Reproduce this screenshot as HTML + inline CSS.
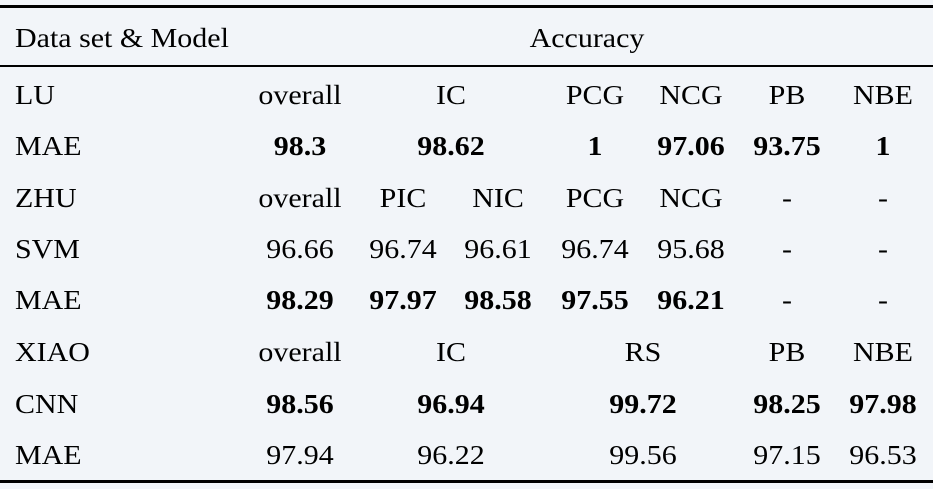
<!DOCTYPE html>
<html><head><meta charset="utf-8"><style>
body{margin:0;width:933px;height:489px;background:#f2f5f9;position:relative;overflow:hidden;font-family:"Liberation Serif",serif;font-size:27px;color:#000}
.l{position:absolute;left:0;width:933px;background:#000}
.t{position:absolute;white-space:nowrap;line-height:30px;transform:translate(-50%,-50%) scaleX(1.11)}
.lt{position:absolute;white-space:nowrap;line-height:30px;transform-origin:0 50%;transform:translateY(-50%) scaleX(1.11);left:15px}
b{font-weight:bold}
</style></head><body>
<div class="l" style="top:5px;height:3px"></div>
<div class="l" style="top:65px;height:2px"></div>
<div class="l" style="top:480px;height:3px"></div>

<div class="lt" style="top:38px">Data set &amp; Model</div>
<div class="t" style="left:587px;top:38px">Accuracy</div>

<div class="lt" style="top:95px">LU</div>
<div class="t" style="left:300px;top:95px">overall</div>
<div class="t" style="left:451px;top:95px">IC</div>
<div class="t" style="left:595px;top:95px">PCG</div>
<div class="t" style="left:691px;top:95px">NCG</div>
<div class="t" style="left:787px;top:95px">PB</div>
<div class="t" style="left:883px;top:95px">NBE</div>

<div class="lt" style="top:146px">MAE</div>
<div class="t" style="left:300px;top:146px"><b>98.3</b></div>
<div class="t" style="left:451px;top:146px"><b>98.62</b></div>
<div class="t" style="left:595px;top:146px"><b>1</b></div>
<div class="t" style="left:691px;top:146px"><b>97.06</b></div>
<div class="t" style="left:787px;top:146px"><b>93.75</b></div>
<div class="t" style="left:883px;top:146px"><b>1</b></div>

<div class="lt" style="top:198px">ZHU</div>
<div class="t" style="left:300px;top:198px">overall</div>
<div class="t" style="left:403px;top:198px">PIC</div>
<div class="t" style="left:498px;top:198px">NIC</div>
<div class="t" style="left:595px;top:198px">PCG</div>
<div class="t" style="left:691px;top:198px">NCG</div>
<div class="t" style="left:787px;top:198px">-</div>
<div class="t" style="left:883px;top:198px">-</div>

<div class="lt" style="top:249px">SVM</div>
<div class="t" style="left:300px;top:249px">96.66</div>
<div class="t" style="left:403px;top:249px">96.74</div>
<div class="t" style="left:498px;top:249px">96.61</div>
<div class="t" style="left:595px;top:249px">96.74</div>
<div class="t" style="left:691px;top:249px">95.68</div>
<div class="t" style="left:787px;top:249px">-</div>
<div class="t" style="left:883px;top:249px">-</div>

<div class="lt" style="top:300px">MAE</div>
<div class="t" style="left:300px;top:300px"><b>98.29</b></div>
<div class="t" style="left:403px;top:300px"><b>97.97</b></div>
<div class="t" style="left:498px;top:300px"><b>98.58</b></div>
<div class="t" style="left:595px;top:300px"><b>97.55</b></div>
<div class="t" style="left:691px;top:300px"><b>96.21</b></div>
<div class="t" style="left:787px;top:300px">-</div>
<div class="t" style="left:883px;top:300px">-</div>

<div class="lt" style="top:352px">XIAO</div>
<div class="t" style="left:300px;top:352px">overall</div>
<div class="t" style="left:451px;top:352px">IC</div>
<div class="t" style="left:643px;top:352px">RS</div>
<div class="t" style="left:787px;top:352px">PB</div>
<div class="t" style="left:883px;top:352px">NBE</div>

<div class="lt" style="top:404px">CNN</div>
<div class="t" style="left:300px;top:404px"><b>98.56</b></div>
<div class="t" style="left:451px;top:404px"><b>96.94</b></div>
<div class="t" style="left:643px;top:404px"><b>99.72</b></div>
<div class="t" style="left:787px;top:404px"><b>98.25</b></div>
<div class="t" style="left:883px;top:404px"><b>97.98</b></div>

<div class="lt" style="top:455px">MAE</div>
<div class="t" style="left:300px;top:455px">97.94</div>
<div class="t" style="left:451px;top:455px">96.22</div>
<div class="t" style="left:643px;top:455px">99.56</div>
<div class="t" style="left:787px;top:455px">97.15</div>
<div class="t" style="left:883px;top:455px">96.53</div>
</body></html>
